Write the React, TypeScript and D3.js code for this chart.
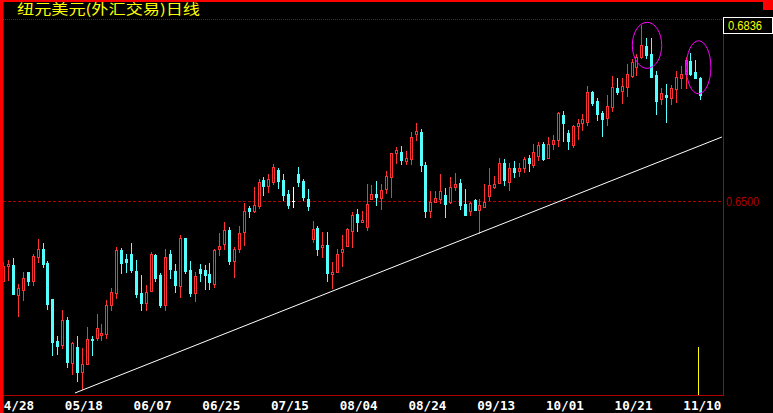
import React from 'react';
import * as d3 from 'd3';

const W = 773;
const H = 413;

// Daily prices in 1/10000 units (pips)
const OPEN = [6346,6375,6377,6320,6330,6365,6347,6393,6408,6381,6312,6232,6224,6272,6190,6220,6172,6188,6236,6238,6243,6245,6300,6323,6406,6389,6398,6366,6323,6304,6328,6397,6358,6301,6398,6366,6338,6429,6368,6323,6370,6368,6360,6341,6408,6417,6444,6385,6409,6440,6486,6480,6491,6540,6529,6536,6559,6540,6513,6500,6551,6538,6504,6427,6448,6411,6416,6360,6364,6403,6413,6443,6475,6460,6451,6504,6513,6506,6523,6545,6592,6594,6577,6580,6628,6632,6569,6481,6499,6503,6511,6498,6527,6535,6494,6480,6501,6483,6489,6510,6526,6534,6572,6536,6564,6558,6564,6582,6569,6587,6609,6582,6609,6617,6665,6631,6607,6644,6649,6652,6708,6691,6669,6659,6679,6716,6711,6719,6740,6757,6776,6797,6781,6741,6695,6703,6698,6714,6736,6744,6768,6746,6735];
const HIGH = [6383,6387,6391,6341,6365,6365,6398,6427,6419,6385,6312,6242,6291,6277,6231,6242,6218,6258,6242,6284,6265,6310,6333,6411,6410,6398,6419,6387,6358,6339,6402,6398,6362,6408,6406,6379,6435,6429,6385,6365,6379,6377,6381,6408,6438,6460,6450,6411,6452,6497,6491,6527,6542,6545,6551,6570,6564,6551,6521,6527,6566,6542,6523,6462,6452,6441,6441,6384,6409,6435,6449,6478,6485,6480,6533,6531,6539,6533,6557,6592,6603,6605,6596,6633,6649,6638,6574,6520,6520,6552,6524,6545,6554,6542,6523,6498,6503,6503,6533,6563,6547,6582,6580,6572,6577,6572,6584,6588,6610,6612,6612,6622,6626,6671,6672,6636,6646,6657,6667,6720,6711,6697,6673,6702,6739,6735,6735,6762,6772,6781,6836,6812,6812,6748,6717,6724,6722,6749,6758,6776,6783,6770,6738];
const LOW = [6346,6349,6322,6280,6310,6339,6339,6384,6373,6293,6205,6207,6218,6183,6169,6156,6140,6188,6205,6233,6233,6238,6291,6315,6363,6365,6365,6317,6291,6291,6328,6346,6298,6291,6353,6326,6317,6363,6319,6309,6347,6332,6332,6336,6397,6409,6379,6355,6402,6416,6470,6478,6487,6511,6517,6532,6525,6502,6487,6489,6529,6502,6483,6422,6397,6393,6347,6334,6364,6376,6413,6411,6443,6460,6444,6504,6492,6485,6515,6508,6573,6571,6570,6570,6617,6557,6470,6470,6498,6497,6470,6496,6521,6485,6473,6473,6483,6438,6489,6502,6524,6534,6531,6521,6545,6547,6555,6558,6566,6578,6578,6582,6600,6606,6614,6600,6603,6619,6636,6646,6684,6655,6625,6646,6672,6704,6688,6701,6738,6741,6773,6773,6738,6666,6685,6652,6685,6690,6717,6716,6741,6735,6695];
const CLOSE = [6376,6379,6322,6333,6352,6347,6395,6409,6379,6303,6231,6223,6272,6192,6228,6173,6187,6235,6234,6256,6248,6301,6325,6406,6382,6384,6368,6322,6305,6325,6398,6353,6301,6392,6370,6339,6429,6366,6324,6356,6363,6358,6344,6406,6414,6444,6386,6409,6438,6481,6481,6492,6536,6529,6543,6565,6538,6511,6492,6500,6537,6508,6491,6446,6409,6416,6363,6365,6398,6409,6446,6473,6460,6464,6494,6513,6507,6522,6548,6591,6598,6578,6582,6622,6634,6568,6481,6498,6505,6519,6494,6526,6533,6492,6473,6496,6483,6492,6499,6531,6532,6572,6540,6563,6555,6563,6580,6572,6593,6607,6580,6610,6617,6668,6650,6614,6644,6650,6657,6708,6688,6667,6657,6681,6719,6709,6720,6743,6766,6776,6799,6780,6738,6691,6707,6700,6717,6738,6743,6770,6743,6736,6703];

const DATE_LABELS = ['04/28','05/18','06/07','06/25','07/15','08/04','08/24','09/13','10/01','10/21','11/10'];
const DATE_INDEX = [2,16,30,44,58,72,86,100,114,128,142];

const TITLE = '纽元美元(外汇交易)日线';
const REF_PRICE = 0.65;
const TOP_PRICE = 0.6836;
const TREND = [{ i: 14.6, p: 0.61324 }, { i: 146.4, p: 0.66225 }];
const MARKS = [
  { i: 131.15, p: 0.6798, rx: 14.7, ry: 23 },
  { i: 141.65, p: 0.6756, rx: 12.3, ry: 26.5 },
];

const UP = '#ff3232';
const DOWN = '#54ffff';
const GRID = '#b00000';

export default function App() {
  const n = OPEN.length;
  const data = d3.range(n).map((k) => ({
    o: OPEN[k] / 10000, h: HIGH[k] / 10000, l: LOW[k] / 10000, c: CLOSE[k] / 10000,
  }));
  const left = 3, right = 723, top = 19, bottom = 395;
  const x = d3.scaleLinear().domain([0, n - 1]).range([3.3, 700.3]);
  const y = d3.scaleLinear().domain([0.61286, 0.68484]).range([bottom, top]);
  const trendLine = d3.line<{ i: number; p: number }>().x((d) => x(d.i)).y((d) => y(d.p));

  return (
    <svg width={W} height={H} style={{ position: 'absolute', left: 0, top: 0, background: '#000' }}>
      <defs>
        <clipPath id="plot">
          <rect x={left} y={top} width={right - left} height={bottom - top} />
        </clipPath>
      </defs>
      <rect x={0} y={0} width={W} height={H} fill="#000" />
      {/* reference price dashed line */}
      <line x1={left} x2={right} y1={Math.round(y(REF_PRICE)) + 0.5} y2={Math.round(y(REF_PRICE)) + 0.5}
        stroke={GRID} strokeDasharray="3,2" />
      <g clipPath="url(#plot)">
        {data.map((d, k) => {
          const cx = Math.round(x(k));
          const yh = Math.round(y(d.h));
          const yl = Math.round(y(d.l));
          const yo = Math.round(y(d.o));
          const yc = Math.round(y(d.c));
          if (d.c > d.o) {
            return (
              <g key={k}>
                <line x1={cx + 0.5} x2={cx + 0.5} y1={yh} y2={yl + 1} stroke={UP} />
                <rect x={cx - 0.5} y={yc + 0.5} width={2} height={Math.max(yo - yc, 0)} fill="#000" stroke={UP} />
              </g>
            );
          }
          if (d.c < d.o) {
            return (
              <g key={k}>
                <line x1={cx + 0.5} x2={cx + 0.5} y1={yh} y2={yl + 1} stroke={DOWN} />
                <rect x={cx - 1} y={yo} width={3} height={Math.max(yc - yo, 1) + 1} fill={DOWN} />
              </g>
            );
          }
          return (
            <g key={k}>
              <line x1={cx + 0.5} x2={cx + 0.5} y1={yh} y2={yl + 1} stroke="#fff" />
              <line x1={cx - 1} x2={cx + 2} y1={yo + 0.5} y2={yo + 0.5} stroke="#fff" />
            </g>
          );
        })}
        <path d={trendLine(TREND) || ''} stroke="#fff" strokeWidth={1} fill="none" />
      </g>
      {MARKS.map((m, k) => (
        <ellipse key={k} cx={x(m.i)} cy={y(m.p)} rx={m.rx} ry={m.ry} fill="none" stroke="#ff00ff" strokeWidth={1} />
      ))}
      {/* last-bar marker */}
      <line x1={Math.round(x(n - 1)) - 1.5} x2={Math.round(x(n - 1)) - 1.5} y1={347} y2={bottom} stroke="#ffff00" />
      {/* date labels (drawn beneath the left border bar) */}
      {DATE_LABELS.map((lab, k) => (
        <text key={lab} x={x(DATE_INDEX[k]) + 2} y={409.5} fill="#fff" fontSize={12.6} fontWeight="bold"
          fontFamily="'DejaVu Sans Mono', monospace" textAnchor="middle">{lab}</text>
      ))}
      {/* frame */}
      <line x1={left} x2={right} y1={top + 0.5} y2={top + 0.5} stroke={GRID} strokeDasharray="1,1" />
      <line x1={left} x2={right + 1} y1={bottom + 0.5} y2={bottom + 0.5} stroke={GRID} />
      <line x1={right + 0.5} x2={right + 0.5} y1={top} y2={bottom + 1} stroke={GRID} />
      <rect x={0} y={0} width={3.6} height={H} fill="#ff0000" />
      <rect x={0} y={0} width={W} height={2} fill="#ff0000" />
      <rect x={763} y={0} width={10} height={10} fill="#ff0000" />
      {/* title */}
      <text x={17} y={14} fill="#ffff00" fontSize={14} fontFamily="'Noto Sans CJK SC', sans-serif"
        textLength={183} lengthAdjust="spacingAndGlyphs">{TITLE}</text>
      {/* price labels */}
      <rect x={723.5} y={17.5} width={49} height={16} fill="#000" stroke="#fff" strokeWidth={1} />
      <text x={728} y={30} fill="#ffff00" fontSize={13} fontFamily="'Liberation Sans', sans-serif"
        textLength={34} lengthAdjust="spacingAndGlyphs">{TOP_PRICE.toFixed(4)}</text>
      <text x={726} y={y(REF_PRICE) + 5.5} fill={GRID} fontSize={13} fontFamily="'Liberation Sans', sans-serif"
        textLength={33} lengthAdjust="spacingAndGlyphs">{REF_PRICE.toFixed(4)}</text>
    </svg>
  );
}
